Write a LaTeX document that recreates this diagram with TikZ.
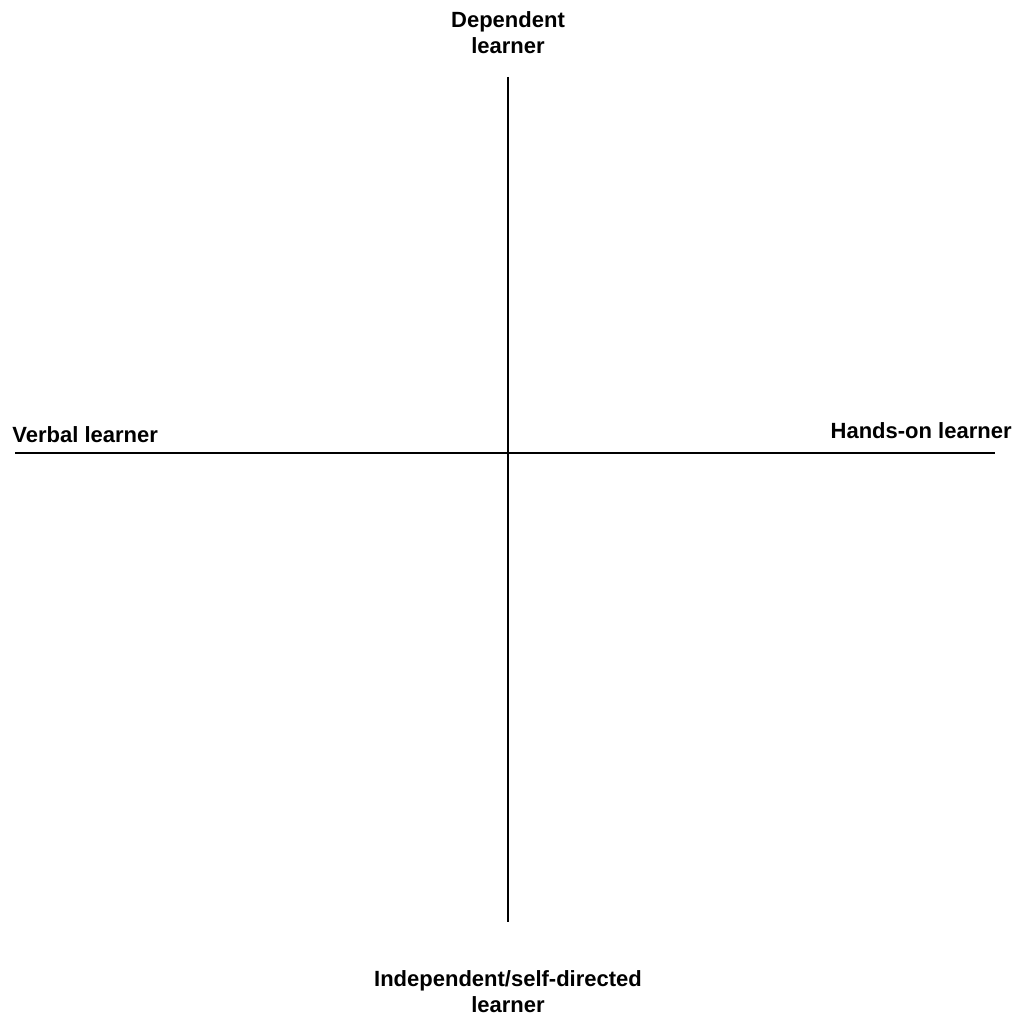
\documentclass[tikz,border=0pt]{standalone}
\usepackage{fontspec}
\setmainfont{Liberation Sans}
\usetikzlibrary{calc}
\tikzset{
  axislabel/.style={font=\fontsize{11}{13}\selectfont\bfseries,inner sep=0pt,align=center},
  axisline/.style={line width=1pt,black}
}

\begin{document}
\begin{tikzpicture}[x=0.5pt,y=-0.5pt]
  \useasboundingbox (0,0) rectangle (1016,1016);

  \coordinate (top) at (508,77);
  \coordinate (bottom) at (508,922);
  \coordinate (left) at (15,453);
  \coordinate (right) at (995,453);

  \draw[axisline] (top) -- (bottom);
  \draw[axisline] (left) -- (right);

  % base of a two-line label = baseline of its last line
  \node[axislabel,anchor=base] (dep) at (508,54) {Dependent\\learner};
  \node[axislabel,anchor=base] (indep) at (508,1012) {Independent/self-directed\\learner};
  \node[axislabel,anchor=base west] (verbal) at (12,442) {Verbal learner};
  \node[axislabel,anchor=base east] (hands) at (1012,438) {Hands-on learner};
\end{tikzpicture}
\end{document}
